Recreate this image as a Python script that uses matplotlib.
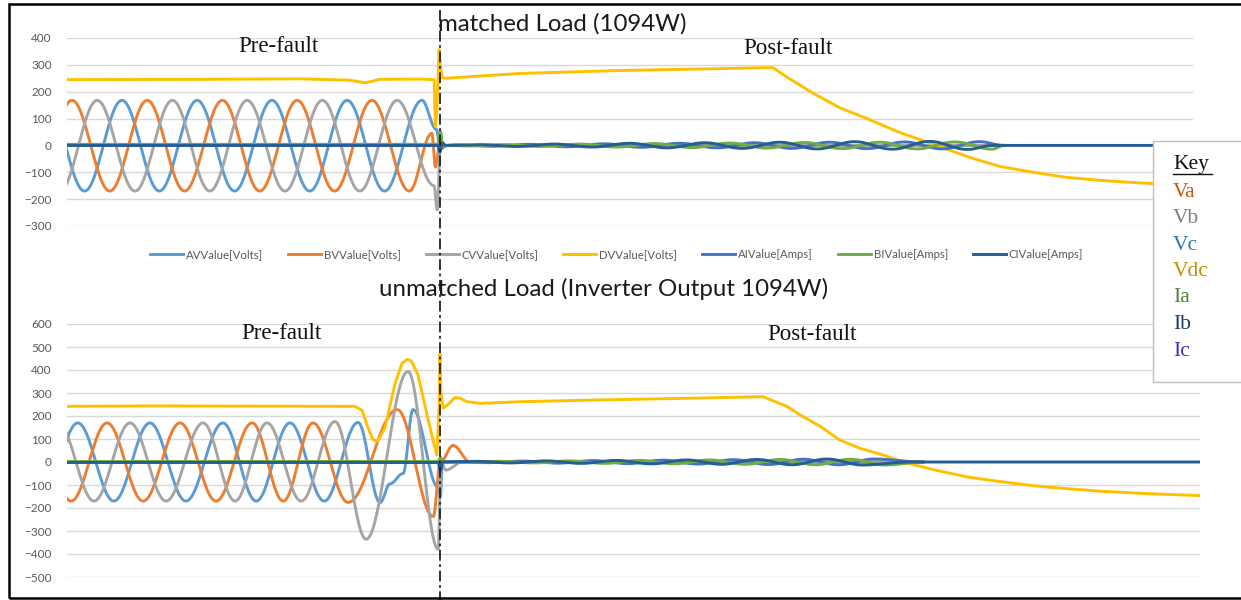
import numpy as np
import matplotlib
matplotlib.use('Agg')
import matplotlib.pyplot as plt
from matplotlib.patches import Rectangle
from matplotlib.lines import Line2D

W, H = 1241, 600

# time in ms, 0 = first sample; fault at ~82.8 ms
T_FAULT = 82.8
T_END_TOP = 250.0
T_END_BOT = 251.5

# ---------------- matched load ----------------
# phase voltages: knot times (extrema / transient points) and values
AV_TOP_T = [-4.5, 3.9, 12.2, 20.5, 28.9, 37.2, 45.5, 53.9, 62.2, 70.5, 78.8, 82.0, 82.8, 208]
AV_TOP_V = [168, -170, 168, -170, 168, -170, 168, -170, 168, -170, 168, 60, 0, 0]
BV_TOP_T = [-7.2, 1.1, 9.5, 17.8, 26.1, 34.5, 42.8, 51.1, 59.4, 67.7, 76.0, 81.0, 81.8, 82.7, 208]
BV_TOP_V = [-170, 168, -170, 168, -170, 168, -170, 168, -170, 168, -170, 45, -80, 0, 0]
CV_TOP_T = [-1.6, 6.7, 15.1, 23.4, 31.7, 40.0, 48.4, 56.7, 65.0, 73.3, 81.5, 82.2, 82.9, 208]
CV_TOP_V = [-170, 168, -170, 168, -170, 168, -170, 168, -170, 168, -150, -240, 0, 0]

# dc link voltage
DV_TOP_T = [0.0, 29.5, 51.7, 62.8, 66.2, 69.5, 78.4, 81.5, 81.8, 82.1, 82.6, 82.9, 83.3,
            84.1, 89.5, 100.6, 122.8, 145.0, 156.7, 159.8, 162.7, 165.6, 171.6, 177.6,
            184.9, 193.1, 200.5, 207.1, 214.5, 222.0, 229.3, 236.7, 250.0]
DV_TOP_V = [245, 246, 248, 243, 233, 246, 247, 245, 70, 120, 357, 300, 252,
            250, 256, 268, 279, 286, 290, 255, 225, 195, 140, 100,
            48, 0, -45, -78, -100, -119, -130, -138, -150]

# phase currents: level before fault, fault spike, post-fault ripple peaks
AI_TOP_PRE = 0
AI_TOP_SPIKE_T = [82.3, 82.8, 83.3, 84.0]
AI_TOP_SPIKE_V = [0, 30, -10, 0]
AI_TOP_RIPPLE = [2, -3, 4, -5, 6, -7, 8, -9, 10, -11, 12, -12, 13, -13, 14]
BI_TOP_PRE = 4
BI_TOP_SPIKE_T = [82.3, 82.9, 83.5, 84.5]
BI_TOP_SPIKE_V = [4, 52, -5, 0]
BI_TOP_RIPPLE = [-2, 3, -4, 5, -6, 7, -8, 9, -10, 11, -12, 12, -13, 13, -14]
CI_TOP_PRE = 0
CI_TOP_SPIKE_T = [82.3, 82.8, 83.3, 84.0]
CI_TOP_SPIKE_V = [0, -25, 10, 0]
CI_TOP_RIPPLE = [3, -4, 5, -6, 8, -9, 10, -11, 12, -13, 14, -14, 15, -15]
RIPPLE_TOP_START = [86.0, 88.8, 91.6]
RIPPLE_TOP_HALF = 8.33
RIPPLE_TOP_STOP = [208, 208, 205.5]

# ---------------- unmatched load ----------------
AV_BOT_T = [-5.6, 2.4, 10.4, 18.4, 26.4, 34.6, 42.0, 49.5, 57.1, 64.6, 69.5, 71.7, 74.6,
            76.8, 82.4, 82.9, 83.3, 190]
AV_BOT_V = [-170, 170, -170, 170, -170, 170, -170, 170, -170, 172, -176, -95, -50,
            228, -110, -150, 0, 0]
BV_BOT_T = [-7.1, 0.9, 8.9, 16.9, 25.1, 33.1, 41.1, 48.0, 54.6, 62.4, 73.3, 81.3, 82.9,
            85.7, 89.5, 190]
BV_BOT_V = [170, -170, 170, -170, 170, -170, 170, -170, 170, -176, 228, -237, 0,
            72, 0, 0]
CV_BOT_T = [-2.0, 6.0, 14.0, 22.0, 30.2, 37.3, 44.4, 52.0, 59.5, 66.4, 75.7, 82.4, 83.0,
            84.1, 87.7, 190]
CV_BOT_V = [170, -170, 170, -170, 170, -170, 170, -170, 176, -336, 394, -380, 0,
            -35, 0, 0]

DV_BOT_T = [0.0, 18.4, 40.6, 63.9, 65.5, 66.8, 67.9, 69.0, 70.6, 72.8, 74.4, 75.5, 76.4,
            77.9, 80.1, 81.7, 82.1, 82.6, 82.8, 83.0, 83.5, 84.6, 86.1, 87.2, 88.8,
            91.7, 100.6, 113.9, 129.4, 140.5, 154.5, 159.8, 162.7, 167.2, 171.6, 176.0,
            181.2, 185.6, 192.3, 199.8, 207.1, 214.5, 222.0, 229.3, 240.4, 251.5]
DV_BOT_V = [242, 244, 243, 242, 225, 150, 97, 90, 150, 340, 430, 446, 440,
            380, 190, 60, 30, 250, 470, 300, 235, 250, 280, 278, 262,
            255, 262, 268, 274, 278, 284, 242, 205, 155, 95, 60,
            30, 0, -33, -65, -85, -103, -116, -127, -138, -146]

AI_BOT_PRE = 0
AI_BOT_SPIKE_T = [82.4, 82.9, 83.4]
AI_BOT_SPIKE_V = [0, -40, 0]
AI_BOT_RIPPLE = [2, -3, 4, -5, 6, -7, 8, -9, 10, -11, 12, -12, 13]
BI_BOT_PRE = 2
BI_BOT_SPIKE_T = [82.4, 82.9, 83.4]
BI_BOT_SPIKE_V = [2, 20, 0]
BI_BOT_RIPPLE = [-2, 3, -4, 5, -6, 7, -8, 9, -10, 11, -12, 12, -13]
CI_BOT_PRE = -2
CI_BOT_SPIKE_T = [82.4, 82.9, 83.4]
CI_BOT_SPIKE_V = [-2, -30, 0]
CI_BOT_RIPPLE = [3, -4, 5, -6, 7, -8, 9, -10, 11, -12, 13, -13]
RIPPLE_BOT_START = [85.5, 88.1, 90.7]
RIPPLE_BOT_HALF = 7.8
RIPPLE_BOT_STOP = [190, 190, 187]

SERIES = ['AVValue[Volts]', 'BVValue[Volts]', 'CVValue[Volts]', 'DVValue[Volts]',
          'AIValue[Amps]', 'BIValue[Amps]', 'CIValue[Amps]']
COLORS = ['#5B9BD5', '#ED7D31', '#A5A5A5', '#FFC000', '#4472C4', '#70AD47', '#255E91']

KEY_LABELS = ['Va', 'Vb', 'Vc', 'Vdc', 'Ia', 'Ib', 'Ic']
KEY_COLORS = ['#C55A11', '#7F7F7F', '#2E75B6', '#BF9000', '#548235', '#1F3864', '#3A30C0']


def smooth(ts, vs, n=24):
    # half-cosine join between consecutive knots, like a smoothed excel line
    out_t, out_v = [ts[0]], [vs[0]]
    s = np.linspace(0, 1, n)[1:]
    for t0, t1, v0, v1 in zip(ts[:-1], ts[1:], vs[:-1], vs[1:]):
        out_t.extend(t0 + (t1 - t0) * s)
        out_v.extend(v0 + (v1 - v0) * (1 - np.cos(np.pi * s)) / 2)
    return np.array(out_t), np.array(out_v)


def current(pre, spike_t, spike_v, start, half, ripple, stop, end=None):
    t = [0.0] + spike_t + list(start + half * np.arange(len(ripple))) + [stop]
    v = [pre] + spike_v + ripple + [0]
    if end is not None:
        t.append(end)
        v.append(0)
    return smooth(t, v)


def style_axes(ax, ymin, ymax, xend):
    ax.set_xlim(0, xend)
    ax.set_ylim(ymin, ymax)
    ax.set_yticks(range(ymin, ymax + 1, 100))
    ax.set_xticks([])
    for sp in ax.spines.values():
        sp.set_visible(False)
    ax.yaxis.grid(True, color='#D9D9D9', lw=1.0)
    ax.set_axisbelow(True)
    ax.tick_params(axis='y', length=0, pad=11, labelsize=8.5, labelcolor='#595959')
    for lab in ax.get_yticklabels():
        lab.set_family('Lato')


fig = plt.figure(figsize=(W / 100, H / 100), dpi=100)

ax1 = fig.add_axes([67 / W, 1 - 226 / H, (1193 - 67) / W, (226 - 38) / H])
ax2 = fig.add_axes([67 / W, 1 - 577 / H, (1200 - 67) / W, (577 - 324) / H])

lw = 2.1
top_curves = [
    smooth(AV_TOP_T, AV_TOP_V),
    smooth(BV_TOP_T, BV_TOP_V),
    smooth(CV_TOP_T, CV_TOP_V),
    (np.array(DV_TOP_T), np.array(DV_TOP_V)),
    current(AI_TOP_PRE, AI_TOP_SPIKE_T, AI_TOP_SPIKE_V, RIPPLE_TOP_START[0],
            RIPPLE_TOP_HALF, AI_TOP_RIPPLE, RIPPLE_TOP_STOP[0]),
    current(BI_TOP_PRE, BI_TOP_SPIKE_T, BI_TOP_SPIKE_V, RIPPLE_TOP_START[1],
            RIPPLE_TOP_HALF, BI_TOP_RIPPLE, RIPPLE_TOP_STOP[1]),
    current(CI_TOP_PRE, CI_TOP_SPIKE_T, CI_TOP_SPIKE_V, RIPPLE_TOP_START[2],
            RIPPLE_TOP_HALF, CI_TOP_RIPPLE, RIPPLE_TOP_STOP[2], T_END_TOP),
]
bot_curves = [
    smooth(AV_BOT_T, AV_BOT_V),
    smooth(BV_BOT_T, BV_BOT_V),
    smooth(CV_BOT_T, CV_BOT_V),
    (np.array(DV_BOT_T), np.array(DV_BOT_V)),
    current(AI_BOT_PRE, AI_BOT_SPIKE_T, AI_BOT_SPIKE_V, RIPPLE_BOT_START[0],
            RIPPLE_BOT_HALF, AI_BOT_RIPPLE, RIPPLE_BOT_STOP[0]),
    current(BI_BOT_PRE, BI_BOT_SPIKE_T, BI_BOT_SPIKE_V, RIPPLE_BOT_START[1],
            RIPPLE_BOT_HALF, BI_BOT_RIPPLE, RIPPLE_BOT_STOP[1]),
    current(CI_BOT_PRE, CI_BOT_SPIKE_T, CI_BOT_SPIKE_V, RIPPLE_BOT_START[2],
            RIPPLE_BOT_HALF, CI_BOT_RIPPLE, RIPPLE_BOT_STOP[2], T_END_BOT),
]

for (t, v), name, c in zip(top_curves, SERIES, COLORS):
    ax1.plot(t, v, color=c, lw=lw, label=name, solid_joinstyle='round')
for (t, v), c in zip(bot_curves, COLORS):
    ax2.plot(t, v, color=c, lw=lw, solid_joinstyle='round')

style_axes(ax1, -300, 400, T_END_TOP)
style_axes(ax2, -500, 600, T_END_BOT)

leg = ax1.legend(loc='center', bbox_to_anchor=(0.488, -0.154), ncol=7, frameon=False,
                 handlelength=2.9, handletextpad=0.25, columnspacing=2.2,
                 prop={'family': 'Lato', 'size': 8.2})
for txt in leg.get_texts():
    txt.set_color('#595959')

# titles and region labels
title_kw = dict(ha='center', va='center', fontsize=17.3, family='Lato', color='#1A1A1A')
fig.text(562 / W, 1 - 24 / H, 'matched Load (1094W)', **title_kw)
fig.text(604 / W, 1 - 289 / H, 'unmatched Load (Inverter Output 1094W)', **title_kw)

serif_kw = dict(ha='center', va='center', fontsize=16.5, family='Liberation Serif', color='#111111')
fig.text(278 / W, 1 - 47 / H, 'Pre-fault', **serif_kw)
fig.text(788 / W, 1 - 49 / H, 'Post-fault', **serif_kw)
fig.text(281 / W, 1 - 333 / H, 'Pre-fault', **serif_kw)
fig.text(812 / W, 1 - 334 / H, 'Post-fault', **serif_kw)

# fault instant marker
fig.add_artist(Line2D([440 / W, 440 / W], [1 - 10 / H, 0], color='#222222', lw=1.3,
                      linestyle=(0, (6, 2, 1.5, 2)), transform=fig.transFigure))

# key box
fig.add_artist(Rectangle((1153 / W, 1 - 382 / H), 0.2, (382 - 141) / H,
                         facecolor='white', edgecolor='#BFBFBF', lw=1.0,
                         transform=fig.transFigure, zorder=10))
key_kw = dict(ha='left', va='center', fontsize=15.5, family='Liberation Serif', zorder=11)
fig.text(1173 / W, 1 - 165 / H, 'Key', color='#111111', **key_kw)
fig.add_artist(Line2D([1173 / W, 1212 / W], [1 - 174 / H, 1 - 174 / H], color='#111111',
                      lw=1.0, transform=fig.transFigure, zorder=11))
for i, (lab, c) in enumerate(zip(KEY_LABELS, KEY_COLORS)):
    fig.text(1173 / W, 1 - (192 + 26.5 * i) / H, lab, color=c, **key_kw)

# outer frame
fig.add_artist(Rectangle((9 / W, 2 / H), 1.0, 1 - 6 / H, fill=False, edgecolor='black',
                         lw=1.8, transform=fig.transFigure, zorder=12))

fig.savefig('out.png', dpi=100)
